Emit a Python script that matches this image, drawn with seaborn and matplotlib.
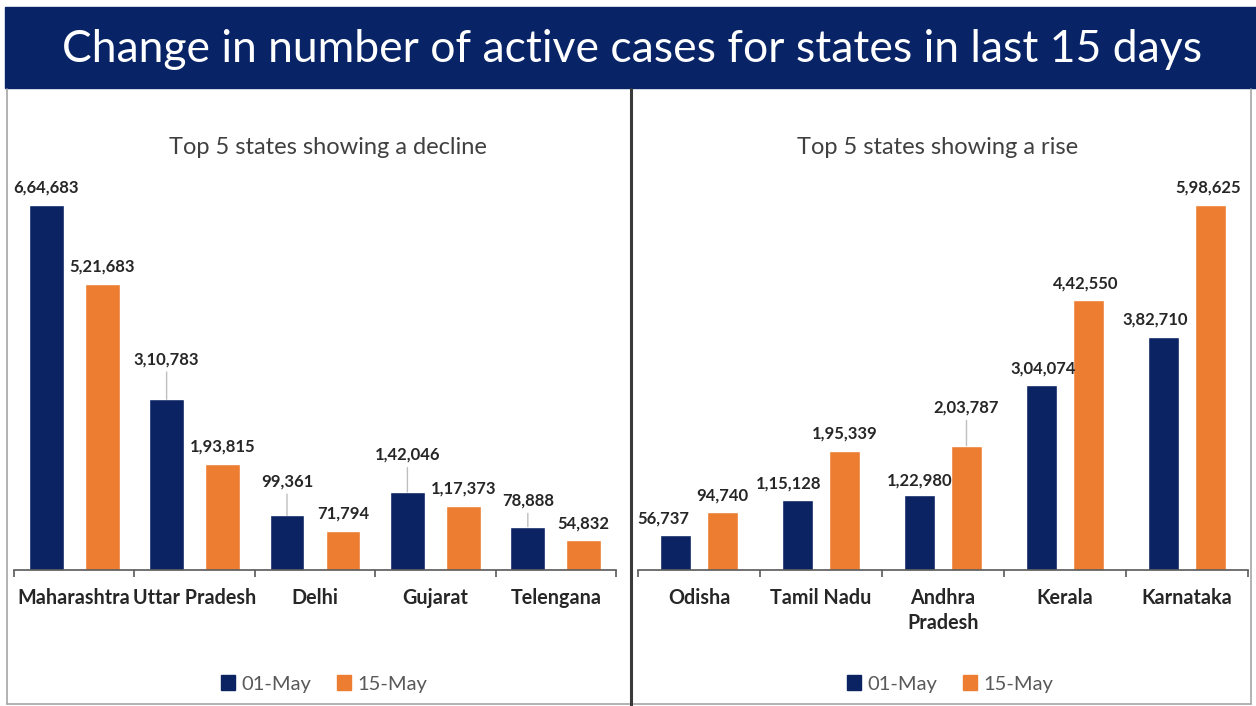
import matplotlib
matplotlib.use("Agg")
import matplotlib.pyplot as plt
import seaborn as sns
import pandas as pd
from matplotlib.lines import Line2D
from matplotlib.patches import Rectangle

# ---------------- data ----------------
decline_states = ["Maharashtra", "Uttar Pradesh", "Delhi", "Gujarat", "Telengana"]
decline_may01 = [664683, 310783, 99361, 142046, 78888]
decline_may15 = [521683, 193815, 71794, 117373, 54832]

rise_states = ["Odisha", "Tamil Nadu", "Andhra\nPradesh", "Kerala", "Karnataka"]
rise_may01 = [56737, 115128, 122980, 304074, 382710]
rise_may15 = [94740, 195339, 203787, 442550, 598625]

dates = ["01-May", "15-May"]
title = "Change in number of active cases for states in last 15 days"
subtitles = ["Top 5 states showing a decline", "Top 5 states showing a rise"]

# ---------------- style ----------------
NAVY = "#0b2263"
ORANGE = "#ED7D31"
BAND = "#082467"
W, H = 1256, 706

sns.set_theme(style="white")
plt.rcParams["font.family"] = ["Lato", "DejaVu Sans"]

# label offsets (dx, dy) in pixels from bar top, per hue
decline_offsets = [[(0, 17), (0, 40), (0, 34), (0, 37), (0, 26)],
                   [(0, 17), (0, 17), (0, 17), (0, 17), (0, 16)]]
rise_offsets = [[(-12, 17), (-9, 16), (0, 14), (2, 16), (-8, 17)],
                [(0, 17), (0, 17), (0, 38), (-3, 17), (-2, 17)]]


def indian(n):
    s = str(int(n))
    last3, rest = s[-3:], s[:-3]
    groups = []
    while len(rest) > 2:
        groups.insert(0, rest[-2:])
        rest = rest[:-2]
    if rest:
        groups.insert(0, rest)
    return ",".join(groups + [last3])


fig = plt.figure(figsize=(W / 100, H / 100), dpi=100)
fig.patch.set_facecolor("white")


def fx(px):
    return px / W


def fy(py):
    return 1 - py / H


# title band
fig.patches.append(Rectangle((fx(5), fy(88)), fx(W - 5), 81 / H,
                             transform=fig.transFigure, color=BAND, zorder=0))
fig.text(fx(632), fy(49), title, color="white", fontsize=32,
         ha="center", va="center")

# panel frame lines
fig.add_artist(Line2D([fx(7), fx(7)], [fy(89), fy(704)], color="#a6a6a6", lw=1.2))
fig.add_artist(Line2D([fx(1251), fx(1251)], [fy(89), fy(704)], color="#a6a6a6", lw=1.2))
fig.add_artist(Line2D([fx(7), fx(1251)], [fy(704), fy(704)], color="#a6a6a6", lw=1.2))
fig.add_artist(Line2D([fx(631), fx(631)], [fy(89), fy(706)], color="#3a3a3a", lw=2.2))


def panel(left_px, right_px, states, v1, v2, offsets, subtitle, sub_x,
          legend_x, width, gap):
    bottom_px, top_px = 570, 160
    ax = fig.add_axes([fx(left_px), fy(bottom_px), fx(right_px - left_px),
                       (bottom_px - top_px) / H])
    df = pd.DataFrame({
        "state": states * 2,
        "date": [dates[0]] * len(states) + [dates[1]] * len(states),
        "cases": list(v1) + list(v2),
    })
    sns.barplot(data=df, x="state", y="cases", hue="date",
                palette=[NAVY, ORANGE], width=width, gap=gap,
                saturation=1, ax=ax, legend=False)
    ymax = max(max(v1), max(v2))
    ax.set_ylim(0, ymax * 410 / 365)
    ax.set_xlim(-0.5, len(states) - 0.5)

    for hi, cont in enumerate(ax.containers):
        for bi, bar in enumerate(cont):
            x = bar.get_x() + bar.get_width() / 2
            y = bar.get_height()
            dx, dy = offsets[hi][bi]
            arrow = None
            if dy > 20:
                arrow = dict(arrowstyle="-", color="#bfbfbf", lw=1.0,
                             shrinkA=1, shrinkB=0)
            ax.annotate(indian(y), xy=(x, y), xytext=(dx, dy),
                        textcoords="offset pixels", ha="center", va="center",
                        fontsize=12, fontweight="bold", color="#262626",
                        arrowprops=arrow, annotation_clip=False)

    for s in ["top", "right", "left"]:
        ax.spines[s].set_visible(False)
    ax.spines["bottom"].set_color("#595959")
    ax.spines["bottom"].set_linewidth(1.2)
    ax.set_yticks([])
    ax.set_xlabel("")
    ax.set_ylabel("")
    ax.set_xticks(range(len(states)))
    ax.set_xticklabels(states, fontsize=14.2, fontweight="bold",
                       color="#262626", linespacing=1.3, va="top")
    ax.tick_params(axis="x", which="major", length=0, pad=13)
    ax.set_xticks([i - 0.5 for i in range(len(states) + 1)], minor=True)
    ax.tick_params(axis="x", which="minor", length=5, width=1.2,
                   color="#595959", direction="out", bottom=True)
    ax.set_facecolor("none")

    handles = [Rectangle((0, 0), 1, 1, color=NAVY),
               Rectangle((0, 0), 1, 1, color=ORANGE)]
    ax.legend(handles, dates, loc="center", ncol=2, frameon=False,
              bbox_to_anchor=((legend_x - left_px) / (right_px - left_px),
                              (bottom_px - 684) / (bottom_px - top_px)),
              fontsize=14.5, labelcolor="#595959", handlelength=0.7,
              handleheight=0.7, handletextpad=0.3, columnspacing=1.3)

    fig.text(fx(sub_x), fy(148), subtitle,
             fontsize=17, color="#404040", ha="center", va="center")
    return ax


panel(14, 616, decline_states, decline_may01, decline_may15,
      decline_offsets, subtitles[0], 328, 324, width=0.93, gap=0.376)
panel(638, 1248, rise_states, rise_may01, rise_may15,
      rise_offsets, subtitles[1], 938, 950, width=0.77, gap=0.32)

fig.savefig("out.png", dpi=100, facecolor="white")
